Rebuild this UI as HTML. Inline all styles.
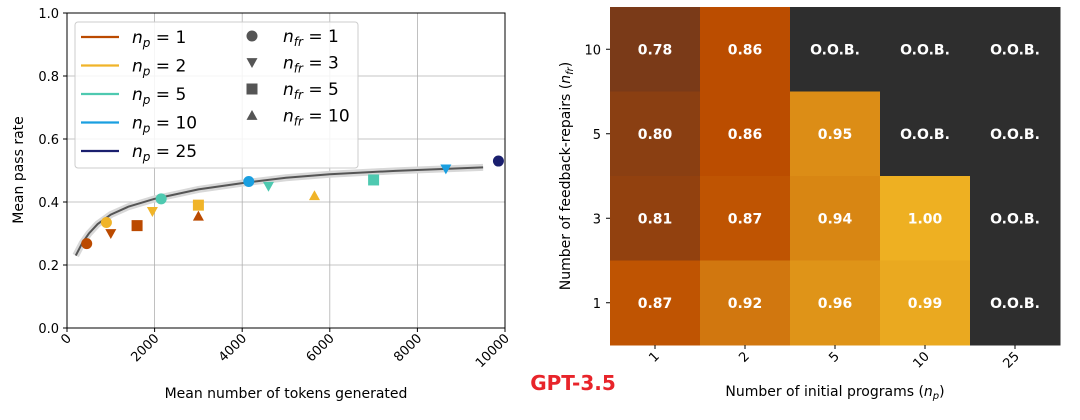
<!DOCTYPE html>
<html><head><meta charset="utf-8"><style>
body{margin:0;background:#fff;width:1080px;height:416px;overflow:hidden;font-family:"DejaVu Sans","Liberation Sans",sans-serif}
svg text{font-family:"DejaVu Sans","Liberation Sans",sans-serif}
</style></head><body>
<svg id="s" width="1080" height="416">
<g id="left"></g>
<g id="right"></g>
<text x="573" y="390" font-size="20" font-weight="bold" fill="#e8242a" text-anchor="middle">GPT-3.5</text>
</svg>
<script>
const curveX=[200,350,500,700,1000,1400,2000,3000,4000,5000,6000,7500,9500];
const curveY=[0.23,0.27,0.30,0.33,0.36,0.385,0.41,0.44,0.46,0.477,0.488,0.499,0.51];
const ptX=[450,1000,1600,3000,900,1950,3000,5650,2150,4600,7000,4150,8650,9850];
const ptY=[0.268,0.30,0.325,0.355,0.335,0.37,0.39,0.42,0.41,0.45,0.47,0.465,0.505,0.53];
const ptNp=[0,0,0,0,1,1,1,1,2,2,2,3,3,4];
const ptNfr=[0,1,2,3,0,1,2,3,0,1,2,0,1,0];
const npColors=["#bb4a00","#f0b429","#4ec9b0","#1a9fe0","#1a1f6e"];
const npLabels=["1","2","5","10","25"];
const nfrLabels=["1","3","5","10"];
const xTicks=[0,2000,4000,6000,8000,10000];
const yTicks=[0,0.2,0.4,0.6,0.8,1.0];
const hmCols=["1","2","5","10","25"];
const hmRows=["10","5","3","1"];
const hmVals=[[0.78,0.86,null,null,null],[0.80,0.86,0.95,null,null],[0.81,0.87,0.94,1.00,null],[0.87,0.92,0.96,0.99,null]];
const NS="http://www.w3.org/2000/svg";
function el(p,t,a){const e=document.createElementNS(NS,t);for(const k in a)e.setAttribute(k,a[k]);p.appendChild(e);return e;}
const L=document.getElementById('left'),R=document.getElementById('right');
const X0=67,X1=505,Y0=328,Y1=13;
const sx=v=>X0+(v/10000)*(X1-X0), sy=v=>Y0-v*(Y0-Y1);
xTicks.forEach(t=>{const g=el(L,'line',{x1:sx(t),x2:sx(t),y1:Y1,y2:Y0,stroke:'#b0b0b0','stroke-width':0.8});
 el(L,'line',{x1:sx(t),x2:sx(t),y1:Y0,y2:Y0+4,stroke:'#000'});
 const tx=el(L,'text',{x:sx(t)+5,y:Y0+11,'font-size':13,'text-anchor':'end',transform:`rotate(-45 ${sx(t)+5} ${Y0+11})`});tx.textContent=t;});
yTicks.forEach(t=>{const g=el(L,'line',{x1:X0,x2:X1,y1:sy(t),y2:sy(t),stroke:'#b0b0b0','stroke-width':0.8});
 el(L,'line',{x1:X0-4,x2:X0,y1:sy(t),y2:sy(t),stroke:'#000'});
 const tx=el(L,'text',{x:X0-8,y:sy(t)+5,'font-size':13,'text-anchor':'end'});tx.textContent=t.toFixed(1);});
const fr=el(L,'rect',{x:X0,y:Y1,width:X1-X0,height:Y0-Y1,fill:'none',stroke:'#000','stroke-width':1});
let d=curveX.map((v,i)=>(i?'L':'M')+sx(v)+' '+sy(curveY[i])).join(' ');
const band=el(L,'path',{d,fill:'none',stroke:'#d8d8d8','stroke-width':7});
const cur=el(L,'path',{d,fill:'none',stroke:'#555','stroke-width':2});
function marker(p,k,x,y,c,s){let m;
 if(k==0)m=el(p,'circle',{cx:x,cy:y,r:s,fill:c});
 else if(k==1)m=el(p,'polygon',{points:`${x-s},${y-s*0.8} ${x+s},${y-s*0.8} ${x},${y+s}`,fill:c});
 else if(k==2)m=el(p,'rect',{x:x-s,y:y-s,width:2*s,height:2*s,fill:c});
 else m=el(p,'polygon',{points:`${x-s},${y+s*0.8} ${x+s},${y+s*0.8} ${x},${y-s}`,fill:c});
 return m;}
ptX.forEach((v,i)=>{const m=marker(L,ptNfr[i],sx(v),sy(ptY[i]),npColors[ptNp[i]],5.5);});
let t=el(L,'text',{x:286,y:398,'font-size':14,'text-anchor':'middle'});t.textContent='Mean number of tokens generated';
t=el(L,'text',{x:23,y:170,'font-size':14,'text-anchor':'middle',transform:'rotate(-90 23 170)'});t.textContent='Mean pass rate';
const lg=el(L,'g',{});
el(lg,'rect',{x:75,y:22,width:283,height:146,rx:3,fill:'rgba(255,255,255,0.85)',stroke:'#ccc'});
npLabels.forEach((s,i)=>{const y=37+i*28.5;el(lg,'line',{x1:81,x2:119,y1:y,y2:y,stroke:npColors[i],'stroke-width':2.2});
 const tx=el(lg,'text',{x:132,y:y+6,'font-size':17});tx.innerHTML=`<tspan font-style="italic">n</tspan><tspan font-style="italic" font-size="12" dy="4">p</tspan><tspan dy="-4"> = ${s}</tspan>`;});
nfrLabels.forEach((s,i)=>{const y=36+i*26.5;marker(lg,i,252,y,'#555',5.5);
 const tx=el(lg,'text',{x:283,y:y+6,'font-size':17});tx.innerHTML=`<tspan font-style="italic">n</tspan><tspan font-style="italic" font-size="12" dy="4">fr</tspan><tspan dy="-4"> = ${s}</tspan>`;});
const HX=610,HY=7,CW=90,CH=84.5;
function col(v){const a=[0x7a,0x3a,0x18],b=[0xbb,0x4d,0x00],c=[0xee,0xb0,0x22];let f,p,q;
 if(v<0.86){f=(v-0.78)/0.08;p=a;q=b}else{f=(v-0.86)/0.14;p=b;q=c}f=Math.max(0,Math.min(1,f));
 return 'rgb('+p.map((x,i)=>Math.round(x+(q[i]-x)*f)).join(',')+')';}
hmRows.forEach((r,ri)=>hmCols.forEach((c,ci)=>{const v=hmVals[ri][ci];
 const rc=el(R,'rect',{x:HX+ci*CW,y:HY+ri*CH,width:CW+0.5,height:CH+0.5,fill:v==null?'#2e2e2e':col(v)});
 const tx=el(R,'text',{x:HX+ci*CW+CW/2,y:HY+ri*CH+CH/2+5,'font-size':14,'font-weight':'bold',fill:'#fff','text-anchor':'middle'});tx.textContent=v==null?'O.O.B.':v.toFixed(2);}));
hmRows.forEach((r,ri)=>{const y=HY+ri*CH+CH/2;el(R,'line',{x1:HX-4,x2:HX,y1:y,y2:y,stroke:'#000'});
 const tx=el(R,'text',{x:HX-9,y:y+5,'font-size':13,'text-anchor':'end'});tx.textContent=r;});
hmCols.forEach((c,ci)=>{const x=HX+ci*CW+CW/2;el(R,'line',{x1:x,x2:x,y1:345,y2:349,stroke:'#000'});
 const tx=el(R,'text',{x:x+5,y:357,'font-size':13,'text-anchor':'end',transform:`rotate(-45 ${x+5} 357)`});tx.textContent=c;});
t=el(R,'text',{x:835,y:396,'font-size':14,'text-anchor':'middle'});t.innerHTML='Number of initial programs (<tspan font-style="italic">n</tspan><tspan font-style="italic" font-size="10" dy="3">p</tspan><tspan dy="-3">)</tspan>';
t=el(R,'text',{x:570,y:176,'font-size':14,'text-anchor':'middle',transform:'rotate(-90 570 176)'});t.innerHTML='Number of feedback-repairs (<tspan font-style="italic">n</tspan><tspan font-style="italic" font-size="10" dy="3">fr</tspan><tspan dy="-3">)</tspan>';
</script>
</body></html>
